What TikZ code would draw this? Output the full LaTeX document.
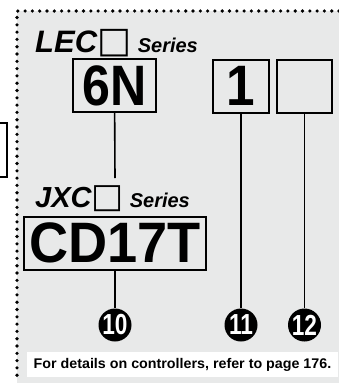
\documentclass[tikz,border=0pt]{standalone}
\usepackage{fontspec}
\setmainfont{Liberation Sans}
\newfontfamily\symfont{DejaVu Sans}
\usetikzlibrary{calc}
\definecolor{panel}{RGB}{232,233,233}

\begin{document}
\begin{tikzpicture}[x=1pt,y=-1pt,
    code/.style={draw,line width=2pt,inner sep=0pt,minimum height=53pt,
      font=\bfseries\fontsize{57}{57}\selectfont},
    series/.style={anchor=base west,inner sep=0pt,font=\bfseries\itshape},
    callout/.style={circle,fill=black,text=white,inner sep=0pt,minimum size=33pt,
      font=\bfseries\fontsize{29}{29}\selectfont}]
    \useasboundingbox (0,0) rectangle (339,383);
    \fill[panel] (17,11) rectangle (339,383);
    \draw[line width=3.6pt,line cap=round,dash pattern=on 0pt off 7.3pt] (339,11) -- (17,11) -- (17,380);
    \draw[line width=2pt] (0,123) -- (7,123) -- (7,177) -- (0,177);
    % labels
    \node[series] (lec) at (35,52) {\fontsize{31}{31}\selectfont LEC{\symfont\mdseries\upshape\fontsize{36}{36}\selectfont □}\kern-2pt~{\fontsize{20}{20}\selectfont Series}};
    \node[series] (jxc) at (35,207) {\fontsize{29}{29}\selectfont JXC{\symfont\mdseries\upshape\fontsize{34}{34}\selectfont □}\kern-2pt~{\fontsize{20}{20}\selectfont Series}};
    % code boxes
    \node[code,minimum width=83pt] (sixn) at (114.5,85.5) {\scalebox{0.88}[1]{6N}};
    \node[code,minimum width=56pt] (one) at (241,86) {\scalebox{0.9}[1]{1}};
    \node[code,minimum width=55pt] (blank) at (304.5,86) {};
    \node[code,minimum width=182pt] (cd) at (115,243) {\scalebox{0.95}[1]{CD17T}};
    \coordinate (jxctop) at (115,178);
    % callouts
    \node[callout] (c10) at (115,325) {\scalebox{0.78}[1]{10}};
    \node[callout] (c11) at (241,325) {\scalebox{0.78}[1]{11}};
    \node[callout] (c12) at (304.5,325) {\scalebox{0.78}[1]{12}};
    \draw[line width=1.6pt] (sixn) to (jxctop);
    \draw[line width=1.6pt] (cd) to (c10);
    \draw[line width=1.6pt] (one) to (c11);
    \draw[line width=1.6pt] (blank) to (c12);
    \node[fill=white,inner sep=0pt,minimum width=311pt,minimum height=25pt,
      font=\bfseries\fontsize{14}{14}\selectfont] (note) at (182.5,364.5)
      {\scalebox{1.02}[1]{For details on controllers, refer to page 176.}};
\end{tikzpicture}
\end{document}
